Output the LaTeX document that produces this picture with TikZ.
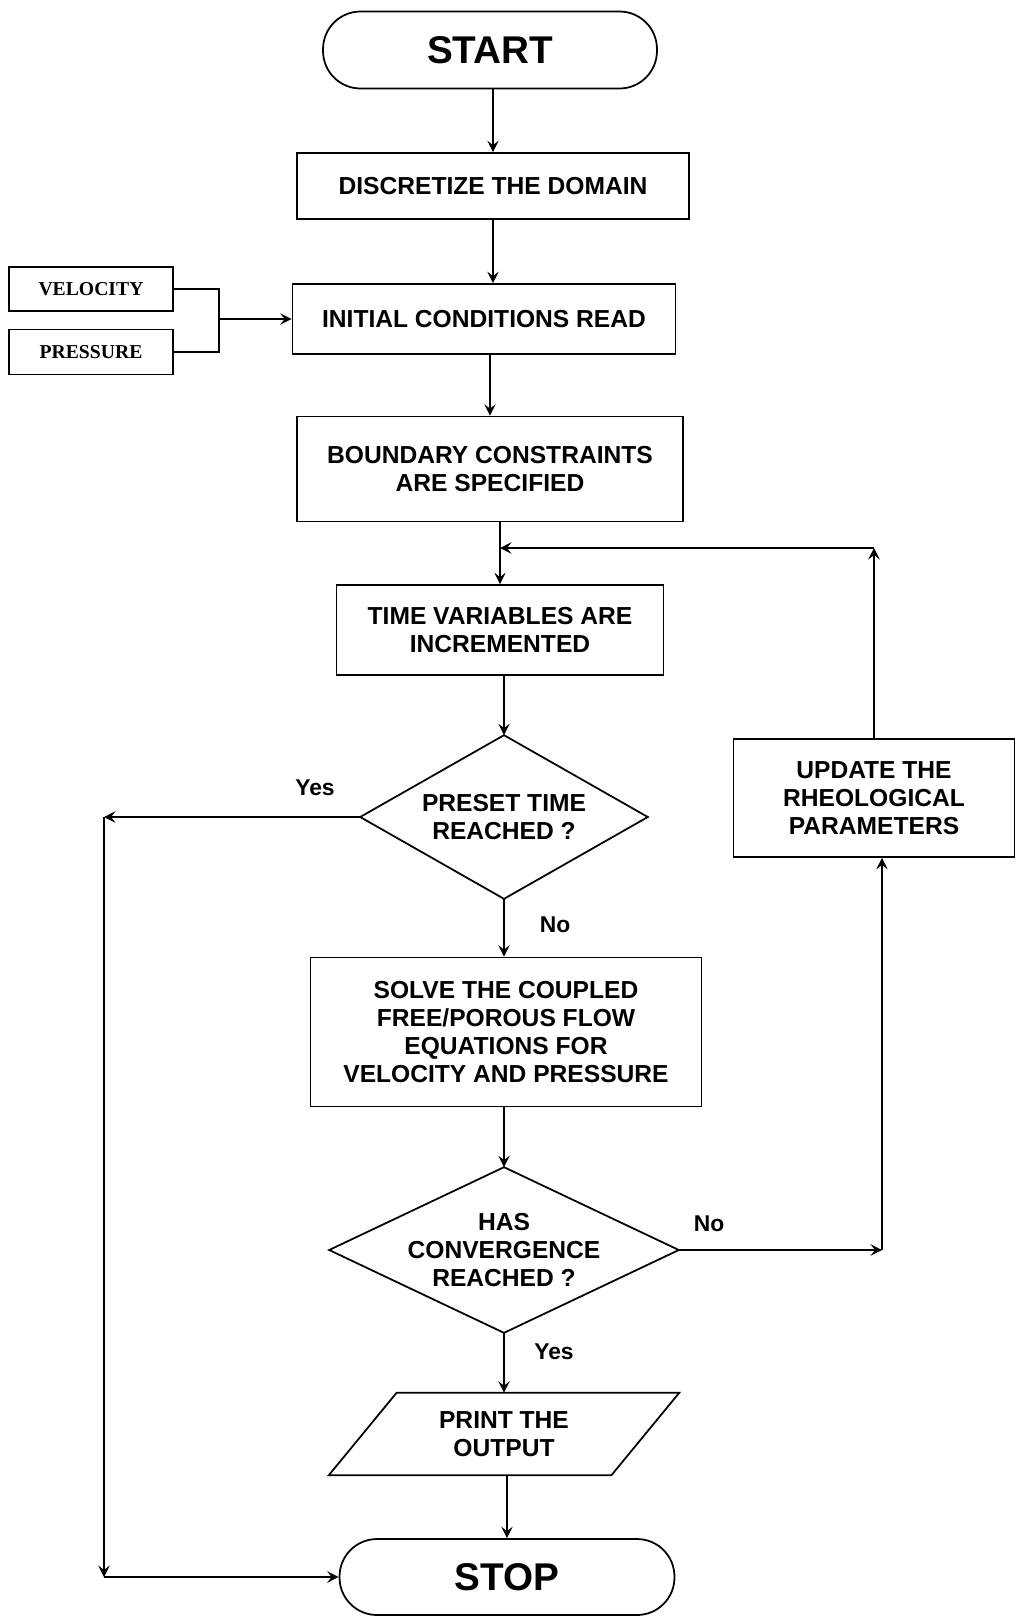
\documentclass[tikz,border=0pt]{standalone}
\usepackage{fontspec}
\setmainfont{Liberation Sans}
\newfontfamily\timesb{Liberation Serif}
\usetikzlibrary{arrows.meta,shapes.geometric,calc}

\begin{document}
\begin{tikzpicture}[x=0.02cm,y=-0.02cm,
  box/.style={draw, line width=1pt, align=center, inner sep=0pt,
    font=\fontsize{14}{16}\selectfont\bfseries},
  term/.style={box, rounded corners=0.75cm,
    font=\fontsize{22}{24}\selectfont\bfseries},
  dec/.style={align=center, inner sep=0pt,
    font=\fontsize{14}{16}\selectfont\bfseries},
  src/.style={draw, line width=1pt, inner sep=0pt, minimum width=3.28cm,
    font=\fontsize{11.2}{13}\selectfont\timesb\bfseries},
  lbl/.style={font=\fontsize{13}{15}\selectfont\bfseries},
  arr/.style={-{Stealth[length=6.5pt,width=6.5pt,inset=2.5pt]}, line width=1.5pt},
  wire/.style={line width=1pt},
  outline/.style={line width=1pt, line join=miter}
]
\fill[white] (0,0) rectangle (1017,1617);
\useasboundingbox (0,0) rectangle (1017,1617);

% main column
\node[term, minimum width=6.68cm, minimum height=1.54cm] (start) at (490,50) {START};
\node[box, minimum width=7.84cm, minimum height=1.32cm] (disc) at (493,186) {DISCRETIZE THE DOMAIN};
\node[box, minimum width=7.66cm, minimum height=1.40cm] (init) at (484,319) {INITIAL CONDITIONS READ};
\node[box, minimum width=7.72cm, minimum height=2.10cm] (bound) at (490,469) {BOUNDARY CONSTRAINTS\\ARE SPECIFIED};
\node[box, minimum width=6.54cm, minimum height=1.80cm] (time) at (500,630) {TIME VARIABLES ARE\\INCREMENTED};

% decisions: outline drawn through the mid-edge anchors
\node[dec, minimum width=5.74cm, minimum height=3.26cm] (d1) at (504,817) {PRESET TIME\\REACHED ?};
\draw[outline] (d1.north) -- (d1.east) -- (d1.south) -- (d1.west) -- cycle;
\node[box, minimum width=7.82cm, minimum height=2.98cm] (solve) at (506,1032) {SOLVE THE COUPLED\\FREE/POROUS FLOW\\EQUATIONS FOR\\VELOCITY AND PRESSURE};
\node[dec, minimum width=6.98cm, minimum height=3.30cm] (d2) at (504,1250) {HAS\\CONVERGENCE\\REACHED ?};
\draw[outline] (d2.north) -- (d2.east) -- (d2.south) -- (d2.west) -- cycle;

% output parallelogram
\node[dec, minimum width=5.64cm, minimum height=1.64cm] (print) at (504,1434) {PRINT THE\\OUTPUT};
\draw[outline] ([xshift=0.68cm]print.north west) -- ([xshift=0.68cm]print.north east)
  -- ([xshift=-0.68cm]print.south east) -- ([xshift=-0.68cm]print.south west) -- cycle;
\node[term, minimum width=6.70cm, minimum height=1.52cm] (stop) at (507,1577) {STOP};

% side boxes
\node[src, minimum height=0.88cm] (vel) at (91,289) {VELOCITY};
\node[src, minimum height=0.90cm] (pres) at (91,352) {PRESSURE};
\node[box, minimum width=5.62cm, minimum height=2.36cm] (upd) at (874,798) {UPDATE THE\\RHEOLOGICAL\\PARAMETERS};

% helper points for bent connectors
\coordinate (brk) at (219,319);
\coordinate (join) at (500,548);
\coordinate (ya) at (104,817);
\coordinate (yb) at (104,1577);
\coordinate (na) at (882,1250);

% straight flow
\draw[arr] (disc.north |- start.south) -- (disc.north);
\draw[arr] (disc) -- (disc |- init.north);
\draw[arr] (bound.north |- init.south) -- (bound.north);
\draw[arr] (time.north |- bound.south) -- (time.north);
\draw[arr] (d1.north |- time.south) -- (d1.north);
\draw[arr] (d1.south) -- (d1.south |- solve.north);
\draw[arr] (d2.north |- solve.south) -- (d2.north);
\draw[arr] (d2.south) -- (d2.south |- print.north);
\draw[arr] (stop.north |- print.south) -- (stop.north);

% inputs
\draw[wire] (vel.east) -| (brk) |- (pres.east);
\draw[arr] (brk) -- (init.west);

% Yes branch to STOP
\draw[arr] (d1.west) -- (ya);
\draw[arr] (ya) -- (yb);
\draw[arr] (yb) -- (stop.west);

% No branch: update and loop back
\draw[arr] (d2.east) -- (na);
\draw[arr] (na) -- (na |- upd.south);
\draw[arr] (upd.north) -- (upd.north |- join);
\draw[arr] (upd.north |- join) -- (join);

% branch labels
\node[lbl] (yes1) at (315,788) {Yes};
\node[lbl] (no1) at (555,925) {No};
\node[lbl] (no2) at (709,1224) {No};
\node[lbl] (yes2) at (554,1352) {Yes};
\end{tikzpicture}
\end{document}
